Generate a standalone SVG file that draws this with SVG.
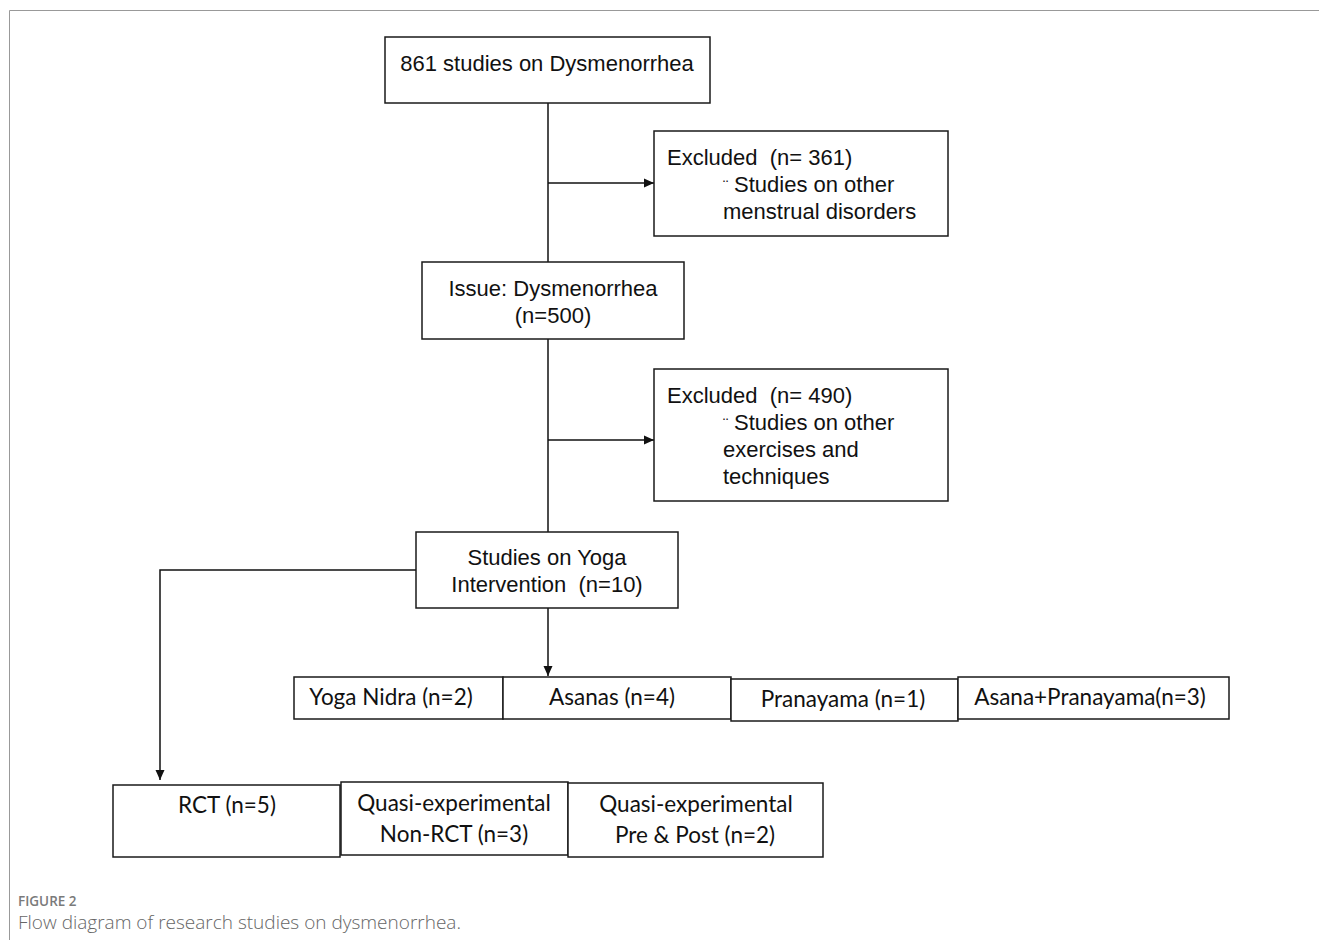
<svg xmlns="http://www.w3.org/2000/svg" width="1319" height="940" viewBox="0 0 1319 940">
<style>
.box{fill:#fff;stroke:#1a1a1a;stroke-width:1.5}
.t{font-family:"Liberation Sans",Arial,sans-serif;font-size:22px;fill:#111;white-space:pre}
.c{font-family:Lato,"Open Sans",sans-serif;font-size:22.5px;fill:#111}
.ln{fill:none;stroke:#111;stroke-width:1.5}
.cap1{font-family:"Open Sans",sans-serif;font-size:13.5px;font-weight:600;fill:#7a7a7a}
.cap2{font-family:"Open Sans",sans-serif;font-size:19px;font-weight:300;fill:#666}
</style>
<defs>
<marker id="ah" viewBox="0 0 10 10" refX="10" refY="5" markerWidth="10" markerHeight="10" markerUnits="userSpaceOnUse" orient="auto">
<path d="M0,0.5 L10,5 L0,9.5 z" fill="#111"/>
</marker>
</defs>
<rect width="1319" height="940" fill="#fff"/>
<path d="M9.5,940 V10.5 H1319" fill="none" stroke="#999" stroke-width="1"/>

<g id="connectors">
<path class="ln" d="M548,103 V262"/>
<path class="ln" d="M548,183 H654" marker-end="url(#ah)"/>
<path class="ln" d="M548,339 V532"/>
<path class="ln" d="M548,440 H654" marker-end="url(#ah)"/>
<path class="ln" d="M548,608 V676" marker-end="url(#ah)"/>
<path class="ln" d="M416,570 H160 V780" marker-end="url(#ah)"/>
</g>

<g id="n861">
<rect class="box" x="385" y="37" width="325" height="66"/>
<text class="t" x="547" y="71" text-anchor="middle">861 studies on Dysmenorrhea</text>
</g>

<g id="excl1">
<rect class="box" x="654" y="131" width="294" height="105"/>
<text class="t" x="667" y="165" xml:space="preserve">Excluded  (n= 361)</text>
<text class="t" y="192"><tspan x="723" font-size="16">¨</tspan><tspan x="734">Studies on other</tspan></text>
<text class="t" x="723" y="219">menstrual disorders</text>
</g>

<g id="issue">
<rect class="box" x="422" y="262" width="262" height="77"/>
<text class="t" x="553" y="296" text-anchor="middle">Issue: Dysmenorrhea</text>
<text class="t" x="553" y="323" text-anchor="middle">(n=500)</text>
</g>

<g id="excl2">
<rect class="box" x="654" y="369" width="294" height="132"/>
<text class="t" x="667" y="403" xml:space="preserve">Excluded  (n= 490)</text>
<text class="t" y="430"><tspan x="723" font-size="16">¨</tspan><tspan x="734">Studies on other</tspan></text>
<text class="t" x="723" y="457">exercises and</text>
<text class="t" x="723" y="484">techniques</text>
</g>

<g id="yoga">
<rect class="box" x="416" y="532" width="262" height="76"/>
<text class="t" x="547" y="565" text-anchor="middle">Studies on Yoga</text>
<text class="t" x="547" y="592" text-anchor="middle" xml:space="preserve">Intervention  (n=10)</text>
</g>

<g id="nidra">
<rect class="box" x="294" y="677" width="209" height="42"/>
<text class="c" x="391" y="705" text-anchor="middle">Yoga Nidra (n=2)</text>
</g>
<g id="asanas">
<rect class="box" x="503" y="677" width="228" height="42"/>
<text class="c" x="612" y="705" text-anchor="middle">Asanas (n=4)</text>
</g>
<g id="pranayama">
<rect class="box" x="731" y="679" width="227" height="42"/>
<text class="c" x="843" y="707" text-anchor="middle">Pranayama (n=1)</text>
</g>
<g id="asanapran">
<rect class="box" x="958" y="677" width="271" height="42"/>
<text class="c" x="1090" y="705" text-anchor="middle">Asana+Pranayama(n=3)</text>
</g>

<g id="rct">
<rect class="box" x="113" y="785" width="227" height="72"/>
<text class="c" x="227" y="813" text-anchor="middle">RCT (n=5)</text>
</g>
<g id="quasi1">
<rect class="box" x="341" y="782" width="227" height="73"/>
<text class="c" x="454" y="811" text-anchor="middle">Quasi-experimental</text>
<text class="c" x="454" y="842" text-anchor="middle">Non-RCT (n=3)</text>
</g>
<g id="quasi2">
<rect class="box" x="568" y="783" width="255" height="74"/>
<text class="c" x="696" y="812" text-anchor="middle">Quasi-experimental</text>
<text class="c" x="695" y="843" text-anchor="middle">Pre &amp; Post (n=2)</text>
</g>

<text class="cap1" x="18" y="906">FIGURE 2</text>
<text class="cap2" x="18" y="929">Flow diagram of research studies on dysmenorrhea.</text>
</svg>
